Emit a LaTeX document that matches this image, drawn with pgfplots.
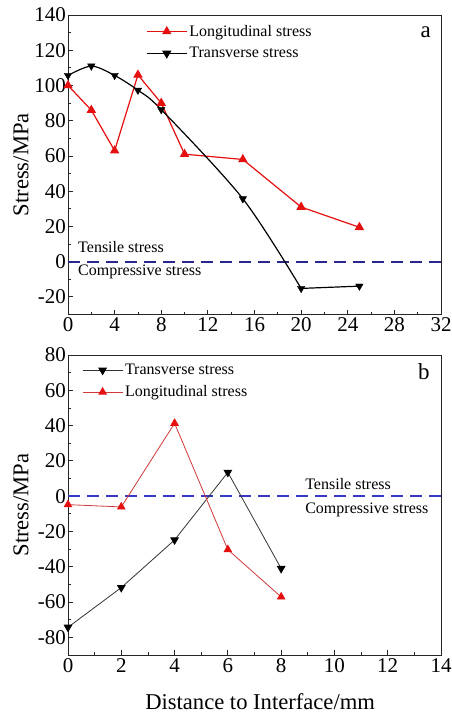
\documentclass[border=0pt]{standalone}
\usepackage{fontspec}
\setmainfont{Liberation Serif}
\usepackage{pgfplots}
\pgfplotsset{compat=1.18}
\definecolor{myred}{rgb}{0.9,0.06,0.06}
\definecolor{bred}{rgb}{0.82,0.22,0.22}
\definecolor{bgray}{rgb}{0.2,0.2,0.2}
\definecolor{dasha}{rgb}{0.15,0.15,0.55}
\definecolor{dashb}{rgb}{0.22,0.22,0.78}
\pgfplotsset{
  common/.style={
    scale only axis,
    axis line style={line width=0.8pt, black!85},
    tick align=inside,
    xtick pos=left, ytick pos=left,
    minor tick num=1,
    major tick length=4.5pt, minor tick length=2.5pt,
    every tick/.style={black!85, line width=0.8pt},
    tick label style={font=\fontsize{21}{21}\selectfont},
    yticklabel style={xshift=1.5pt},
    /pgf/number format/assume math mode=true,
    ylabel={Stress/MPa},
    ylabel style={font=\fontsize{22.6}{22.6}\selectfont, at={(axis description cs:-0.105,0.5)}, anchor=south, inner sep=0pt},
    legend style={draw=none, fill=none, font=\fontsize{16}{16}\selectfont, nodes={inner sep=2pt}, row sep=5.5pt, column sep=0pt},
    legend cell align=left,
    legend image code/.code={\draw[mark repeat=2,mark phase=2] plot coordinates {(0pt,0pt) (20pt,0pt) (40pt,0pt)};},
  },
}
\tikzset{lbl/.style={anchor=west, font=\fontsize{16}{16}\selectfont, inner sep=0pt}}
\begin{document}
\begin{tikzpicture}
\useasboundingbox (0pt,0pt) rectangle (451pt,715pt);
% ---------------- (a) ----------------
\begin{axis}[common,
  at={(68pt,400.5pt)}, anchor=south west,
  width=373pt, height=299.5pt,
  xmin=0, xmax=32, ymin=-30, ymax=140,
  xtick={0,4,...,32}, ytick={-20,0,...,140},
  legend style={at={(rel axis cs:0.201,0.98)}, anchor=north west},
]
\addlegendimage{myred, line width=1.2pt, mark=triangle*, mark size=4.3pt}
\addlegendentry{Longitudinal stress}
\addlegendimage{black, line width=1.2pt, mark=triangle*, mark size=4.3pt, mark options={rotate=180}}
\addlegendentry{Transverse stress}
\addplot[dasha, line width=1.8pt, dash pattern=on 12pt off 7pt, forget plot] coordinates {(0,0) (32,0)};
\addplot[myred, line width=1.2pt, mark=triangle*, mark size=4.3pt, forget plot] coordinates {
 (0,100) (2,86) (4,63) (6,106) (8,90) (10,61) (15,58) (20,31) (25,19.5)};
\addplot[black, line width=1.2pt, smooth, forget plot] coordinates {
 (0,105.7) (2,111) (4,105.7) (6,97.3) (8,86.3) (15,35.7) (20,-15.2)};
\addplot[black, line width=1.2pt, forget plot] coordinates {(20,-15.2) (25,-13.9)};
\addplot[black, only marks, mark=triangle*, mark size=4.3pt, mark options={rotate=180}, forget plot] coordinates {
 (0,105.7) (2,111) (4,105.7) (6,97.3) (8,86.3) (15,35.7) (20,-15.2) (25,-13.9)};
\node[lbl] at (axis cs:0.86,8.4) {Tensile stress};
\node[lbl] at (axis cs:0.86,-5.8) {Compressive stress};
\node[font=\fontsize{23}{23}\selectfont, inner sep=0pt] at (axis cs:30.7,130.4) {a};
\end{axis}
% ---------------- (b) ----------------
\begin{axis}[common,
  at={(68pt,60pt)}, anchor=south west,
  width=373pt, height=300pt,
  xmin=0, xmax=14, ymin=-90, ymax=80,
  xtick={0,2,...,14}, ytick={-80,-60,...,80},
  xlabel={Distance to Interface/mm},
  xlabel style={font=\fontsize{22.6}{22.6}\selectfont, at={(axis description cs:0.515,-0.157)}, anchor=center, inner sep=0pt},
  legend style={at={(rel axis cs:0.0295,0.983)}, anchor=north west},
]
\addlegendimage{bgray, line width=0.8pt, mark=triangle*, mark size=4.3pt, mark options={rotate=180, fill=black, draw=black}}
\addlegendentry{Transverse stress}
\addlegendimage{bred, line width=0.8pt, mark=triangle*, mark size=4.3pt, mark options={fill=myred, draw=myred}}
\addlegendentry{Longitudinal stress}
\addplot[dashb, line width=1.8pt, dash pattern=on 12pt off 7pt, forget plot] coordinates {(0,0) (14,0)};
\addplot[bgray, line width=0.8pt, mark=triangle*, mark size=4.3pt, mark options={rotate=180, fill=black, draw=black}, forget plot] coordinates {
 (0,-74.3) (2,-51.8) (4,-24.8) (6,13.5) (8,-41)};
\addplot[bred, line width=0.8pt, mark=triangle*, mark size=4.3pt, mark options={fill=myred, draw=myred}, forget plot] coordinates {
 (0,-4.8) (2,-6.1) (4,41.3) (6,-30.3) (8,-57.1)};
\node[lbl] at (axis cs:8.9,6.8) {Tensile stress};
\node[lbl] at (axis cs:8.9,-7.9) {Compressive stress};
\node[font=\fontsize{23}{23}\selectfont, inner sep=0pt] at (axis cs:13.36,70.4) {b};
\end{axis}
\end{tikzpicture}
\end{document}
